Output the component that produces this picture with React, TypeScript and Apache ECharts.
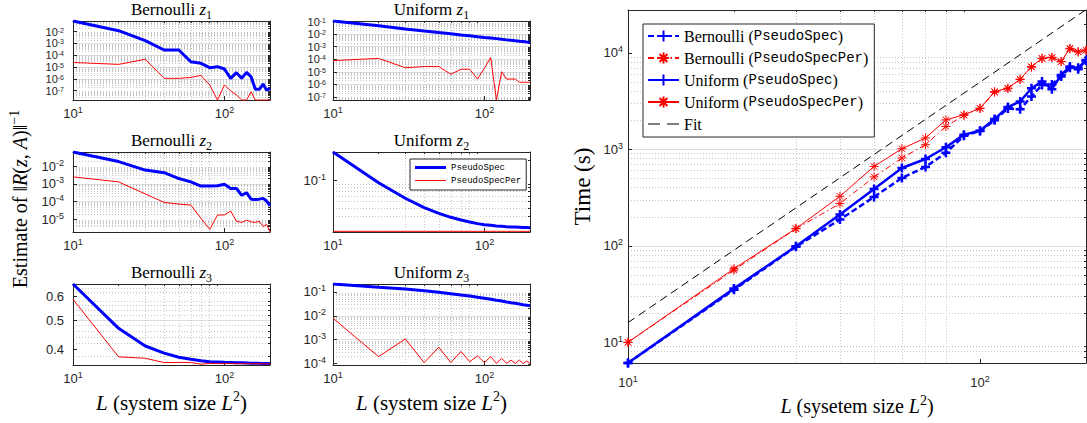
import React, { useEffect, useRef } from "react";
import * as echarts from "echarts";

// ---------------- data ----------------
const L = [10, 20, 30, 40, 50, 60, 70, 80, 90, 100, 110, 120, 130, 140, 150, 160, 170, 180, 190, 200];

// Small panels: estimate of ||R(z,A)||^-1
const bernZ1PS = [7.9e-2, 1.2e-2, 1.7e-3, 2.75e-4, 2.75e-4, 2.8e-5, 2.04e-5, 8.7e-6, 1.07e-5, 6.8e-6, 1.1e-6, 3.3e-6, 1.1e-6, 3.5e-6, 1.5e-6, 1.3e-7, 1.3e-7, 3.6e-7, 1.1e-7, 1.55e-7];
const bernZ1PSP = [2.45e-5, 1.66e-5, 4.5e-5, 1.1e-6, 1.1e-6, 1.3e-6, 1.95e-6, 2.95e-7, 1.6e-8, 2.95e-7, 9.8e-8, 4.2e-8, 1.6e-8, 1.6e-8, 7.9e-8, 1.6e-8, 1.6e-8, 1.6e-8, 1.6e-8, 1.6e-8];
const uniZ1PS = [1.12e-1, 4.6e-2, 2.6e-2, 1.8e-2, 1.35e-2, 1.07e-2, 8.7e-3, 7.4e-3, 6.3e-3, 5.5e-3, 4.9e-3, 4.4e-3, 3.9e-3, 3.5e-3, 3.2e-3, 2.95e-3, 2.75e-3, 2.6e-3, 2.35e-3, 2.25e-3];
const uniZ1PSP = [7.8e-5, 1.17e-4, 2.1e-5, 2.6e-5, 2.6e-5, 6.3e-6, 1.6e-5, 1.6e-5, 2.6e-6, 1.9e-5, 1.4e-4, 5.6e-8, 1.02e-5, 2.6e-6, 2.6e-6, 2.6e-6, 1.45e-6, 1.45e-6, 1.45e-6, 1.45e-6];
const bernZ2PS = [6.2e-2, 1.8e-2, 6.0e-3, 4.3e-3, 2.0e-3, 1.3e-3, 7.6e-4, 7.6e-4, 7.9e-4, 9.5e-4, 5.6e-4, 5.6e-4, 2.3e-4, 3.2e-4, 1.4e-4, 1.35e-4, 1.4e-4, 1.55e-4, 1.1e-4, 5.8e-5];
const bernZ2PSP = [2.5e-3, 1.3e-3, 2.75e-4, 9.1e-5, 7.4e-5, 6.5e-5, 1.17e-5, 2.8e-6, 1.8e-5, 1.8e-5, 3.0e-5, 8.1e-6, 6.9e-6, 9.3e-6, 7.4e-6, 6.9e-6, 8.1e-6, 4.0e-6, 5.4e-6, 2.0e-6];
const uniZ2PS = [0.262, 0.0935, 0.0555, 0.0405, 0.0335, 0.0293, 0.0268, 0.0251, 0.0237, 0.0229, 0.0224, 0.0219, 0.0217, 0.0214, 0.0212, 0.0211, 0.021, 0.0209, 0.0208, 0.0207];
const uniZ2PSP = [0.0183, 0.0183, 0.0183, 0.0183, 0.0183, 0.0183, 0.0183, 0.0183, 0.0183, 0.0183, 0.0183, 0.0183, 0.0183, 0.0183, 0.0183, 0.0183, 0.0183, 0.0183, 0.0183, 0.0183];
const bernZ3PS = [0.662, 0.47, 0.41, 0.388, 0.376, 0.37, 0.366, 0.3627, 0.362, 0.3613, 0.361, 0.3605, 0.36, 0.3595, 0.359, 0.3588, 0.3585, 0.3583, 0.358, 0.358];
const bernZ3PSP = [0.588, 0.377, 0.373, 0.3607, 0.361, 0.361, 0.3563, 0.3585, 0.358, 0.3578, 0.358, 0.3575, 0.3578, 0.3575, 0.3576, 0.3574, 0.3575, 0.3573, 0.3574, 0.3573];
const uniZ3PS = [0.214, 0.155, 0.132, 0.112, 0.0962, 0.084, 0.0741, 0.0673, 0.0594, 0.054, 0.049, 0.0445, 0.0416, 0.0378, 0.0353, 0.0333, 0.0311, 0.0291, 0.0277, 0.0264];
const uniZ3PSP = [7.9e-3, 1.95e-4, 1.07e-3, 1.1e-4, 4.8e-4, 1.1e-4, 3.2e-4, 1.2e-4, 2.1e-4, 1.1e-4, 1.95e-4, 1.02e-4, 1.66e-4, 1.02e-4, 1.4e-4, 1.0e-4, 1.4e-4, 1.0e-4, 1.28e-4, 1.02e-4];

// axis limits of the small panels (value units)
const bernZ1Lim = [1.6e-8, 7.9e-2];
const uniZ1Lim = [5.6e-8, 0.112];
const bernZ2Lim = [2.0e-6, 6.2e-2];
const uniZ2Lim = [0.0179, 0.262];
const bernZ3Lim = [0.354, 0.662];
const uniZ3Lim = [8.7e-5, 0.214];
const bernZ3Ticks = [0.4, 0.5, 0.6];

// Big panel: timing (s)
const bernPSTime = [6.1, 35, 98, 187, 321, 505, 656, 920, 1380, 1550, 2000, 2650, 2600, 3530, 4650, 4700, 5700, 7000, 7000, 8300];
const bernPSPTime = [10, 56, 150, 274, 517, 813, 1116, 1726, 2250, 2650, 3900, 4250, 5300, 7100, 8700, 8900, 8100, 11000, 10200, 10600];
const uniPSTime = [6.1, 36, 99, 211, 388, 641, 794, 1050, 1420, 1560, 2060, 2740, 3130, 4300, 5040, 4200, 5900, 7200, 6760, 8450];
const uniPSPTime = [10, 58, 151, 326, 665, 1014, 1310, 2020, 2280, 2670, 3970, 4310, 5340, 7200, 8790, 9000, 8110, 11150, 10280, 10700];
const fitL = [10, 200];
const fitTime = [16, 28000];
const timeLim = [6.1, 27800];

const xLim = [10, 200];
const xMajorTicks = [10, 100];
const xMinorTicks = [20, 30, 40, 50, 60, 70, 80, 90];

const bigNames = [
  "Bernoulli (PseudoSpec)",
  "Bernoulli (PseudoSpecPer)",
  "Uniform (PseudoSpec)",
  "Uniform (PseudoSpecPer)",
  "Fit",
];

// ---------------- styles ----------------
const SERIF = "'Liberation Serif', 'Times New Roman', serif";
const SANS = "'Liberation Sans', Arial, sans-serif";
const MONO = "'Liberation Mono', 'DejaVu Sans Mono', monospace";
const AX = "#262626";
const MAJ = "#dedede";
const MINC = "#c6c6c6";
const BLUE = "#0000ff";
const RED = "#ff0000";

const lg = (v: number) => Math.log10(v);

const powRich = {
  b: { fontFamily: SANS, fontSize: 13, color: AX, lineHeight: 16 },
  s: { fontFamily: SANS, fontSize: 9, color: AX, lineHeight: 8, verticalAlign: "top" },
};
const denseRich = {
  b: { fontFamily: SANS, fontSize: 11, color: AX, lineHeight: 10 },
  s: { fontFamily: SANS, fontSize: 7, color: AX, lineHeight: 5, verticalAlign: "top" },
};
const powFmt = (v: number) => `{b|10}{s|${Math.round(v)}}`;

const serifRich = (size: number) => ({
  r: { fontFamily: SERIF, fontSize: size, lineHeight: size + 6, color: "#000" },
  i: { fontFamily: SERIF, fontSize: size, fontStyle: "italic", lineHeight: size + 6, color: "#000" },
  sup: { fontFamily: SERIF, fontSize: Math.round(size * 0.68), lineHeight: Math.round(size * 0.6), verticalAlign: "top", color: "#000" },
  sub: { fontFamily: SERIF, fontSize: Math.round(size * 0.7), lineHeight: Math.round(size * 0.7), verticalAlign: "bottom", color: "#000" },
});

function decades(lo: number, hi: number) {
  const out: number[] = [];
  for (let e = Math.ceil(lo - 1e-9); e <= Math.floor(hi + 1e-9); e++) out.push(e);
  return out;
}
function minors(lo: number, hi: number) {
  const out: number[] = [];
  for (let e = Math.floor(lo); e <= Math.ceil(hi); e++) {
    for (let k = 2; k <= 9; k++) {
      const v = e + lg(k);
      if (v > lo + 1e-4 && v < hi - 1e-4) out.push(v);
    }
  }
  return out;
}

function axisPair(kind: "x" | "y", gi: number, lo: number, hi: number, major: number[], minor: number[], fmt: (v: number) => string, margin: number, extra: any = {}, rich: any = powRich) {
  const first = {
    gridIndex: gi,
    type: "value",
    min: lo,
    max: hi,
    position: kind === "x" ? "bottom" : "left",
    axisLine: { show: true, onZero: false, lineStyle: { color: AX, width: 1 } },
    axisTick: { show: true, inside: true, length: 4, customValues: major, lineStyle: { color: AX } },
    axisLabel: {
      show: true,
      customValues: major,
      formatter: fmt,
      rich,
      margin,
      color: AX,
      fontFamily: SANS,
      fontSize: 13,
      showMinLabel: true,
      showMaxLabel: true,
      hideOverlap: false,
    },
    splitLine: { show: true, showMinLine: false, showMaxLine: false, lineStyle: { color: MAJ, width: 1 } },
    ...extra,
  };
  const second = {
    gridIndex: gi,
    type: "value",
    min: lo,
    max: hi,
    position: kind === "x" ? "top" : "right",
    axisLine: { show: true, onZero: false, lineStyle: { color: AX, width: 1 } },
    axisTick: { show: true, inside: true, length: 2, customValues: minor, lineStyle: { color: AX } },
    axisLabel: { show: false },
    splitLine: { show: true, showMinLine: false, showMaxLine: false, lineStyle: { color: MINC, width: 1, type: [1, 2] } },
  };
  return [first, second];
}

const PLUS = "path://M5,0L5,10M0,5L10,5";
const STAR = "path://M5,0L5,10M0,5L10,5M1.5,1.5L8.5,8.5M8.5,1.5L1.5,8.5";

function buildOption() {
  const panels = [
    { kind: "Bernoulli", z: "1", ps: bernZ1PS, psp: bernZ1PSP, lim: bernZ1Lim },
    { kind: "Uniform", z: "1", ps: uniZ1PS, psp: uniZ1PSP, lim: uniZ1Lim },
    { kind: "Bernoulli", z: "2", ps: bernZ2PS, psp: bernZ2PSP, lim: bernZ2Lim },
    { kind: "Uniform", z: "2", ps: uniZ2PS, psp: uniZ2PSP, lim: uniZ2Lim },
    { kind: "Bernoulli", z: "3", ps: bernZ3PS, psp: bernZ3PSP, lim: bernZ3Lim, linear: true },
    { kind: "Uniform", z: "3", ps: uniZ3PS, psp: uniZ3PSP, lim: uniZ3Lim },
  ];
  const colLeft = [73, 333];
  const colW = 197;
  const rows = [
    [21, 79],
    [152, 80],
    [284, 81],
  ];

  const grids: any[] = [];
  const xAxis: any[] = [];
  const yAxis: any[] = [];
  const series: any[] = [];
  const graphic: any[] = [];

  const xlo = lg(xLim[0]);
  const xhi = lg(xLim[1]);
  const xMaj = xMajorTicks.map(lg);
  const xMin = xMinorTicks.map(lg);

  panels.forEach((p: any, i) => {
    const col = i % 2;
    const row = Math.floor(i / 2);
    grids.push({ left: colLeft[col], top: rows[row][0], width: colW, height: rows[row][1], outerBoundsMode: "none" });
    const nameExtra =
      row === 2
        ? {
            name: "{i|L}{r| (system size }{i|L}{sup|2}{r|)}",
            nameLocation: "middle",
            nameGap: 24,
            nameTextStyle: { rich: serifRich(21) },
          }
        : {};
    xAxis.push(...axisPair("x", i, xlo, xhi, xMaj, xMin, powFmt, 5, nameExtra));
    const ylo = lg(p.lim[0]);
    const yhi = lg(p.lim[1]);
    let yMaj: number[];
    let yMin: number[];
    let fmt: (v: number) => string;
    if (p.linear) {
      yMaj = bernZ3Ticks.map(lg);
      yMin = [];
      for (let k = 36; k <= 66; k += 2) if (k % 10 !== 0) yMin.push(lg(k / 100));
      fmt = (v: number) => `{b|${Math.pow(10, v).toFixed(1)}}`;
    } else {
      yMaj = decades(ylo, yhi);
      yMin = minors(ylo, yhi);
      fmt = powFmt;
    }
    const pxPerDec = rows[row][1] / (yhi - ylo);
    const rich = !p.linear && pxPerDec < 15 ? denseRich : powRich;
    yAxis.push(...axisPair("y", i, ylo, yhi, yMaj, yMin, fmt, col === 0 ? 9 : 7, {}, rich));
    series.push({
      type: "line",
      name: "PseudoSpec",
      xAxisIndex: 2 * i,
      yAxisIndex: 2 * i,
      data: L.map((l, k) => [lg(l), lg(p.ps[k])]),
      symbol: "none",
      color: BLUE,
      lineStyle: { color: BLUE, width: 3 },
      z: 3,
    });
    series.push({
      type: "line",
      name: "PseudoSpecPer",
      xAxisIndex: 2 * i,
      yAxisIndex: 2 * i,
      data: L.map((l, k) => [lg(l), lg(p.psp[k])]),
      symbol: "none",
      color: RED,
      lineStyle: { color: RED, width: 1 },
      z: 4,
    });
    graphic.push({
      type: "text",
      x: colLeft[col] + colW / 2,
      y: rows[row][0] - 12,
      style: {
        text: `{r|${p.kind} }{i|z}{sub|${p.z}}`,
        rich: serifRich(17),
        align: "center",
        verticalAlign: "middle",
      },
    });
  });

  // big panel
  const bi = 6;
  grids.push({ left: 628, top: 10, width: 458, height: 353, outerBoundsMode: "none" });
  xAxis.push(
    ...axisPair("x", bi, xlo, xhi, xMaj, xMin, powFmt, 11, {
      name: "{i|L}{r| (sysetem size }{i|L}{sup|2}{r|)}",
      nameLocation: "middle",
      nameGap: 30,
      nameTextStyle: { rich: serifRich(20) },
    })
  );
  const tlo = lg(timeLim[0]);
  const thi = lg(timeLim[1]);
  yAxis.push(
    ...axisPair("y", bi, tlo, thi, decades(tlo, thi), minors(tlo, thi), powFmt, 5, {
      name: "{r|Time (s)}",
      nameLocation: "middle",
      nameGap: 31,
      nameTextStyle: { rich: serifRich(23) },
    })
  );
  const bigSets = [
    { name: bigNames[0], d: bernPSTime, c: BLUE, w: 2.5, t: [6, 3], sym: PLUS },
    { name: bigNames[1], d: bernPSPTime, c: RED, w: 1, t: [6, 3, 1.5, 3], sym: STAR },
    { name: bigNames[2], d: uniPSTime, c: BLUE, w: 2.5, t: "solid", sym: PLUS },
    { name: bigNames[3], d: uniPSPTime, c: RED, w: 1, t: "solid", sym: STAR },
  ];
  bigSets.forEach((s) => {
    series.push({
      type: "line",
      name: s.name,
      xAxisIndex: 2 * bi,
      yAxisIndex: 2 * bi,
      data: L.map((l, k) => [lg(l), lg(s.d[k])]),
      symbol: s.sym,
      symbolSize: 9,
      showSymbol: true,
      showAllSymbol: true,
      color: s.c,
      lineStyle: { color: s.c, width: s.w, type: s.t },
      itemStyle: { color: s.c, borderColor: s.c, borderWidth: s.w },
      z: 3,
    });
  });
  series.push({
    type: "line",
    name: bigNames[4],
    xAxisIndex: 2 * bi,
    yAxisIndex: 2 * bi,
    data: fitL.map((l, k) => [lg(l), lg(fitTime[k])]),
    symbol: "none",
    color: "#000",
    lineStyle: { color: "#000", width: 1, type: [8, 5] },
    z: 3,
  });

  graphic.push({
    type: "text",
    x: 20,
    y: 199,
    rotation: Math.PI / 2,
    style: {
      text: "{r|Estimate of }{r|‖}{i|R}{r|(}{i|z}{r|, }{i|A}{r|)‖}{sup|−1}",
      rich: serifRich(20),
      align: "center",
      verticalAlign: "middle",
    },
  });

  const legendRich = {
    s: { fontFamily: SERIF, fontSize: 16, color: "#000" },
    m: { fontFamily: MONO, fontSize: 14, color: "#000" },
  };

  return {
    animation: false,
    backgroundColor: "#fff",
    grid: grids,
    xAxis,
    yAxis,
    series,
    graphic,
    legend: [
      {
        data: [
          { name: bigNames[0] },
          { name: bigNames[1] },
          { name: bigNames[2] },
          { name: bigNames[3] },
          { name: bigNames[4], icon: "path://M0,0H12V1H0ZM19,0H31V1H19Z" },
        ],
        left: 643,
        top: 24,
        orient: "vertical",
        itemWidth: 31,
        itemHeight: 14,
        itemGap: 6,
        padding: [4, 6, 5, 4],
        borderColor: AX,
        borderWidth: 1,
        backgroundColor: "#fff",
        selectedMode: false,
        formatter: (name: string) => {
          const m = name.match(/^(\w+) \((\w+)\)$/);
          if (!m) return `{s|${name}}`;
          return `{s|${m[1]} (}{m|${m[2]}}{s|)}`;
        },
        textStyle: { rich: legendRich, fontFamily: SERIF, fontSize: 16, color: "#000" },
      },
      {
        data: [
          { name: "PseudoSpec", icon: "path://M0,0H31V3H0Z" },
          { name: "PseudoSpecPer", icon: "path://M0,0H31V1H0Z" },
        ],
        left: 410,
        top: 159,
        orient: "vertical",
        itemWidth: 31,
        itemHeight: 8,
        itemGap: 4,
        padding: [4, 5, 5, 5],
        borderColor: AX,
        borderWidth: 1,
        backgroundColor: "#fff",
        selectedMode: false,
        textStyle: { fontFamily: MONO, fontSize: 9, color: "#000" },
      },
    ],
  };
}

export default function App() {
  const ref = useRef<HTMLDivElement>(null);
  useEffect(() => {
    const chart = echarts.init(ref.current!, null, { renderer: "svg" });
    chart.setOption(buildOption() as any);
    return () => chart.dispose();
  }, []);
  return (
    <div
      ref={ref}
      style={{ position: "fixed", left: 0, top: 0, width: 1087, height: 423, background: "#fff" }}
    />
  );
}
